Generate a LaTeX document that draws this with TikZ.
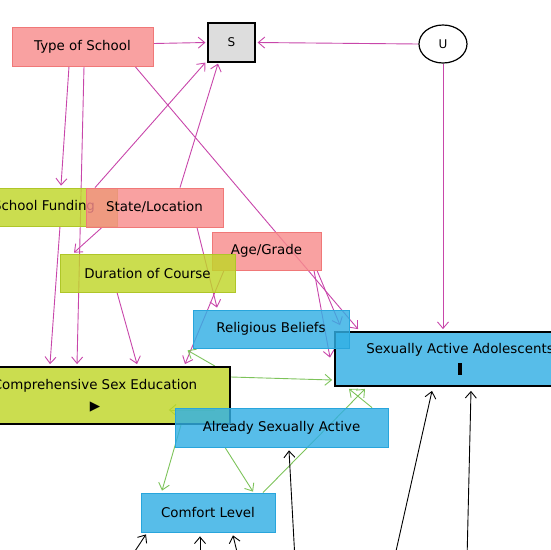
\documentclass[tikz,border=0pt]{standalone}
\usepackage{fontspec}
\setmainfont{DejaVu Sans}
\usepackage{xcolor}
\usetikzlibrary{arrows.meta,shapes.geometric}

\definecolor{salmonfill}{RGB}{248,140,140}
\definecolor{salmonline}{RGB}{240,120,120}
\definecolor{limefill}{RGB}{192,214,40}
\definecolor{limeline}{RGB}{175,198,40}
\definecolor{bluefill}{RGB}{50,175,228}
\definecolor{blueline}{RGB}{40,165,220}
\definecolor{sgray}{RGB}{214,214,214}
\definecolor{magline}{RGB}{200,70,170}
\definecolor{greenline}{RGB}{125,195,90}

\pgfdeclarelayer{background}
\pgfsetlayers{background,main}

\begin{document}
\begin{tikzpicture}[x=1pt,y=-1pt,
  box/.style={draw, line width=0.8pt, inner sep=0pt, minimum height=38pt,
    fill opacity=0.82, text opacity=1, font=\fontsize{13.4}{15}\selectfont},
  confounder/.style={box, fill=salmonfill, draw=salmonline},
  expanc/.style={box, fill=limefill, draw=limeline},
  outanc/.style={box, fill=bluefill, draw=blueline},
  keyvar/.style={draw=black, line width=1.8pt, align=center,
    font=\fontsize{13.4}{21}\selectfont},
  biasing/.style={draw=magline, line width=0.9pt, -{Straight Barb[length=6.5pt,width=11pt]}},
  causal/.style={draw=greenline, line width=0.9pt, -{Straight Barb[length=6.5pt,width=11pt]}},
  otherpath/.style={draw=black, line width=0.9pt, -{Straight Barb[length=6.5pt,width=11pt]}}]
\def\w{550}

\useasboundingbox (0,0) rectangle (\w,\w);

\node[confounder, minimum width=141pt, minimum height=39pt] (tos) at (82.5,46.5) {Type of School};
\node[box, fill=sgray, draw=black, line width=1.2pt, minimum width=47pt, minimum height=39pt,
  font=\fontsize{12}{14}\selectfont] (s) at (231.5,42.5) {S};
\node[ellipse, draw, line width=1.2pt, minimum width=48pt, minimum height=38pt, inner sep=0pt,
  font=\fontsize{12}{14}\selectfont] (u) at (443,44) {U};

\node[expanc, minimum width=146pt] (fund) at (44,207) {School Funding};
\node[confounder, minimum width=137pt, minimum height=39pt] (loc) at (154.5,207.5) {State/Location};
\node[confounder, minimum width=109pt] (age) at (266.5,251) {Age/Grade};
\node[expanc, minimum width=175pt] (dur) at (147.5,273) {Duration of Course};

\node[outanc, keyvar, minimum width=250pt, minimum height=54pt] (saa) at (460,359)
  {Sexually Active Adolescents\\\rule{3.8pt}{11.5pt}};
\node[outanc, minimum width=156pt] (rel) at (271,329) {Religious Beliefs};
\node[expanc, keyvar, minimum width=270pt, minimum height=57pt] (cse) at (95,395.5)
  {Comprehensive Sex Education\\▶};
\node[outanc, minimum width=213pt, minimum height=39pt] (asa) at (281.5,427.5) {Already Sexually Active};
\node[outanc, minimum width=134pt, minimum height=39pt] (comf) at (208,512.5) {Comfort Level};

\coordinate (src1) at (295,560);
\coordinate (src2) at (394,560);
\coordinate (src3) at (467,560);
\coordinate (src4) at (129,560);
\coordinate (src5) at (200,560);
\coordinate (src6) at (239,560);

\begin{pgfonlayer}{background}
\draw[biasing] ([yshift=3pt]tos.east) -- ([xshift=-2pt]s.west);
\draw[biasing] (u.west) -- ([xshift=2pt]s.east);
\draw[biasing] (u.south) -- ([xshift=-17pt,yshift=2pt]saa.north);
\draw[biasing] ([xshift=-13.5pt]tos.south) -- ([xshift=17pt,yshift=2pt]fund.north);
\draw[biasing] ([xshift=1.5pt]tos.south) -- ([xshift=-18pt,yshift=2pt]cse.north);
\draw[biasing] ([xshift=52.5pt]tos.south) -- ([xshift=-102pt,yshift=2pt]saa.north);
\draw[biasing] ([xshift=51pt]fund.north) -- ([xshift=-2pt]s.south west);
\draw[biasing] ([xshift=25.5pt]loc.north) -- ([xshift=-13.5pt,yshift=-1pt]s.south);
\draw[biasing] ([xshift=-52.5pt]loc.south) -- ([xshift=-73.5pt,yshift=1pt]dur.north);
\draw[biasing] ([xshift=42.5pt]loc.south) -- ([xshift=-54pt,yshift=2pt]rel.north);
\draw[biasing] ([xshift=16pt]fund.south) -- ([xshift=-45pt,yshift=2pt]cse.north);
\draw[biasing] ([xshift=-30.5pt]dur.south) -- ([xshift=42pt,yshift=2pt]cse.north);
\draw[biasing] ([xshift=-42.5pt]age.south) -- ([xshift=90pt,yshift=2pt]cse.north);
\draw[biasing] ([xshift=50.5pt]age.south) -- ([xshift=-120pt,yshift=6pt]saa.north);
\draw[biasing] ([xshift=47.5pt]age.south) -- ([xshift=48.5pt,yshift=50pt]asa.north);

\draw[causal] ([xshift=120pt]cse.north) -- ([xshift=-5pt,yshift=-2pt]rel.south west);
\draw[causal] ([yshift=18.5pt]cse.east) -- ([xshift=-2pt,yshift=-21pt]saa.west);
\draw[causal] ([xshift=40pt,yshift=17.5pt]asa.west) -- ([xshift=-62pt,yshift=-14.5pt]cse.east);
\draw[causal] ([xshift=86pt]cse.south) -- ([xshift=-46pt,yshift=2pt]comf.north);
\draw[causal] ([xshift=-56.5pt]asa.south) -- ([xshift=45pt,yshift=1pt]comf.north);
\draw[causal] ([xshift=55pt]comf.north) -- ([xshift=-95pt,yshift=-2pt]saa.south);
\draw[causal] ([xshift=90.5pt]asa.north) -- ([xshift=-111pt,yshift=-2pt]saa.south);

\draw[otherpath] (src1) -- ([xshift=7.5pt,yshift=-3pt]asa.south);
\draw[otherpath] (src2) -- ([xshift=-28pt,yshift=-4pt]saa.south);
\draw[otherpath] (src3) -- ([xshift=11pt,yshift=-4pt]saa.south);
\draw[otherpath] (src4) -- ([xshift=-62pt,yshift=-2pt]comf.south);
\draw[otherpath] (src5) -- ([xshift=-8pt,yshift=-4pt]comf.south);
\draw[otherpath] (src6) -- ([xshift=25pt,yshift=-3pt]comf.south);
\end{pgfonlayer}
\end{tikzpicture}
\end{document}
